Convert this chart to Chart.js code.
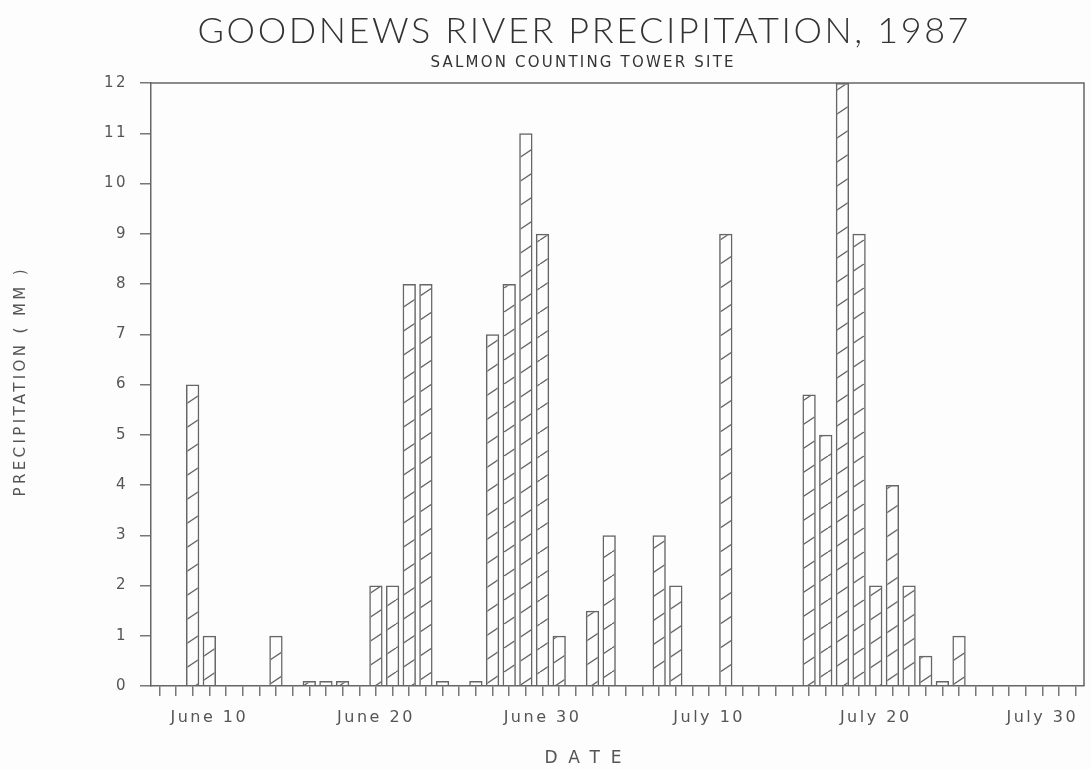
<!DOCTYPE html>
<html>
<head>
<meta charset="utf-8">
<script src="https://cdn.jsdelivr.net/npm/chart.js@4.4.1/dist/chart.umd.min.js"></script>
<style>
  body { margin: 0; background: #fdfdfd; }
</style>
</head>
<body>
<canvas id="rainChart" width="1091" height="770"></canvas>
<script>
// Daily precipitation, Goodnews River salmon counting tower, summer 1987
const juneDays = ['June 7', 'June 8', 'June 9', 'June 10', 'June 11', 'June 12', 'June 13', 'June 14',
  'June 15', 'June 16', 'June 17', 'June 18', 'June 19', 'June 20', 'June 21', 'June 22', 'June 23',
  'June 24', 'June 25', 'June 26', 'June 27', 'June 28', 'June 29', 'June 30'];
const julyDays = ['July 1', 'July 2', 'July 3', 'July 4', 'July 5', 'July 6', 'July 7', 'July 8',
  'July 9', 'July 10', 'July 11', 'July 12', 'July 13', 'July 14', 'July 15', 'July 16', 'July 17',
  'July 18', 'July 19', 'July 20', 'July 21', 'July 22', 'July 23', 'July 24', 'July 25', 'July 26',
  'July 27', 'July 28', 'July 29', 'July 30', 'July 31'];
const augDays = ['Aug 1'];

// mm per day
const juneMm = [0, 0, 6, 1, 0, 0, 0, 1, 0, 0.1, 0.1, 0.1, 0, 2, 2, 8, 8, 0.1, 0, 0.1, 7, 8, 11, 9];
const julyMm = [1, 0, 1.5, 3, 0, 0, 3, 2, 0, 0, 9, 0, 0, 0, 0, 5.8, 5, 12, 9, 2, 4, 2, 0.6, 0.1, 1,
  0, 0, 0, 0, 0, 0];
const augMm = [0];

const dateTicks = ['June 10', 'June 20', 'June 30', 'July 10', 'July 20', 'July 30'];

const days = juneDays.concat(julyDays, augDays);
const precipMm = juneMm.concat(julyMm, augMm);

const ink = '#666';

// diagonal "/" hatching like the plotter fill
function hatch() {
  const c = document.createElement('canvas');
  c.width = 36; c.height = 24;
  const g = c.getContext('2d');
  g.strokeStyle = ink;
  g.lineWidth = 1.4;
  [-36, 0, 36].forEach(dx => {
    g.beginPath();
    g.moveTo(dx, 24);
    g.lineTo(dx + 36, 0);
    g.stroke();
  });
  return g.createPattern(c, 'repeat');
}

// text stretched to a given width with letter spacing
function spaced(ctx, text, x, y, size, family, weight, width, color, angle) {
  ctx.save();
  ctx.font = weight + ' ' + size + 'px ' + family;
  ctx.letterSpacing = '0px';
  const w = ctx.measureText(text).width;
  const sp = (width - w) / (text.length - 1);
  ctx.letterSpacing = sp + 'px';
  ctx.fillStyle = color;
  ctx.textAlign = 'center';
  ctx.textBaseline = 'middle';
  ctx.translate(x, y);
  if (angle) ctx.rotate(angle);
  ctx.fillText(text, sp / 2, 0);
  ctx.restore();
}

const paper = {
  id: 'paper',
  beforeDraw(chart) {
    chart.ctx.letterSpacing = '2.5px';
  },
  afterDraw(chart) {
    const ctx = chart.ctx;
    const a = chart.chartArea;
    ctx.letterSpacing = '0px';
    // top and right frame
    ctx.save();
    ctx.strokeStyle = ink;
    ctx.lineWidth = 1.5;
    ctx.beginPath();
    ctx.moveTo(a.left, a.top);
    ctx.lineTo(a.right, a.top);
    ctx.lineTo(a.right, a.bottom);
    ctx.stroke();
    ctx.restore();

    spaced(ctx, 'GOODNEWS RIVER PRECIPITATION, 1987', 583, 31, 36, 'Lato', 300, 771, '#333');
    spaced(ctx, 'SALMON COUNTING TOWER SITE', 582, 63, 15, 'DejaVu Sans', 'normal', 303, '#333');
    spaced(ctx, 'DATE', 583, 759, 17, 'DejaVu Sans', 'normal', 77, '#555');
    spaced(ctx, 'PRECIPITATION ( MM )', 21, 383, 15, 'DejaVu Sans', 'normal', 227, '#555', -Math.PI / 2);
  }
};

new Chart(document.getElementById('rainChart'), {
  type: 'bar',
  data: {
    labels: days,
    datasets: [{
      label: 'Precipitation (mm)',
      data: precipMm,
      backgroundColor: hatch(),
      borderColor: ink,
      borderWidth: 1.5,
      categoryPercentage: 1,
      barPercentage: 0.8
    }]
  },
  options: {
    responsive: false,
    animation: false,
    layout: { padding: { top: 83, right: 7 } },
    plugins: {
      legend: { display: false },
      tooltip: { enabled: false }
    },
    scales: {
      x: {
        offset: true,
        grid: { offset: false, drawOnChartArea: false, tickLength: 10, color: '#777', lineWidth: 1.5 },
        border: { color: ink, width: 1.5 },
        ticks: {
          autoSkip: false,
          maxRotation: 0,
          padding: 12,
          color: '#555',
          font: { family: 'DejaVu Sans', size: 16 },
          callback(v) {
            const l = this.getLabelForValue(v);
            return dateTicks.includes(l) ? l : '';
          }
        },
        afterFit(s) { s.height = 84; }
      },
      y: {
        min: 0,
        max: 12,
        ticks: { stepSize: 1, padding: 12, color: '#555', font: { family: 'DejaVu Sans', size: 15 } },
        grid: { drawOnChartArea: false, tickLength: 11, color: '#777', lineWidth: 1.5 },
        border: { color: ink, width: 1.5 },
        afterFit(s) { s.width = 151; }
      }
    }
  },
  plugins: [paper]
});
</script>
</body>
</html>
